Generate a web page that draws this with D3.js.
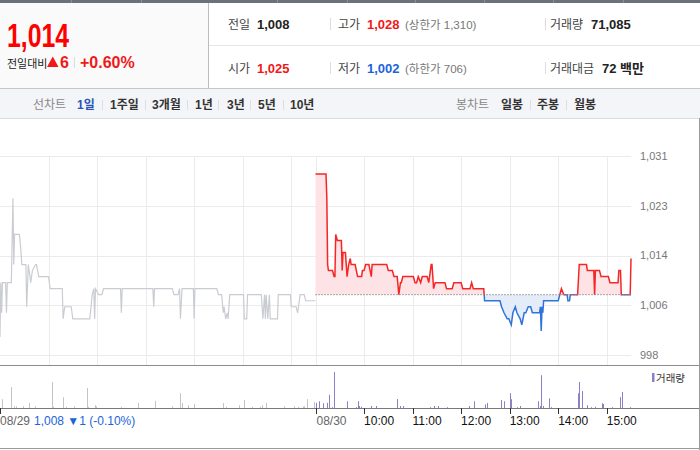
<!DOCTYPE html>
<html>
<head>
<meta charset="utf-8">
<script src="https://cdn.jsdelivr.net/npm/d3@7"></script>
<style>
  html, body { margin: 0; padding: 0; background: #fff; }
  svg { display: block; }
</style>
</head>
<body>
<div id="chart"></div>
<script>
// 08/29 (previous day) ticks
const prevTimes = ["09:00","09:01","09:02","09:03","09:07","09:08","09:09","09:14","09:16","09:17","09:18","09:24","09:26","09:27","09:32","09:33","09:35","09:38","09:40","09:44","09:45","09:48","10:00","10:02","10:17","10:18","10:20","10:28","10:30","10:51","10:54","10:56","10:57","10:58","11:02","11:06","11:08","11:29","11:30","11:31","12:09","12:10","12:11","12:33","12:35","12:40","12:42","12:43","12:45","12:59","13:00","13:01","13:28","13:30","13:34","13:36","13:37","13:39","13:41","13:42","13:44","14:01","14:02","14:05","14:06","14:23","14:25","14:27","14:28","14:29","14:31","14:33","14:34","14:43","14:44","14:59","15:00","15:06","15:08","15:11","15:16","15:18","15:30"];
const prevPrices = [1001,1010,1005,1010,1010,1005,1010,1010,1024,1013,1018,1018,1015,1013,1013,1006,1013,1010,1012,1013,1013,1011,1011,1009,1009,1004,1006,1006,1004,1004,1008,1009,1004,1009,1008,1008,1009,1009,1005,1009,1009,1006,1009,1009,1008,1008,1009,1004,1009,1009,1004,1009,1009,1008,1008,1005,1006,1004,1005,1004,1008,1008,1004,1004,1008,1008,1004,1008,1004,1008,1004,1008,1004,1004,1008,1008,1006,1006,1005,1008,1008,1007,1007];

// 08/30 (today) ticks
const todayTimes = ["09:00","09:13","09:14","09:15","09:16","09:21","09:23","09:24","09:25","09:27","09:32","09:33","09:34","09:37","09:39","09:41","09:43","09:44","09:49","09:52","09:57","09:58","10:00","10:02","10:06","10:09","10:10","10:28","10:30","10:35","10:37","10:41","10:43","10:45","10:46","10:48","11:01","11:03","11:05","11:07","11:10","11:12","11:18","11:20","11:23","11:24","11:26","11:28","11:40","11:42","11:49","11:51","12:00","12:02","12:11","12:13","12:15","12:28","12:29","12:48","12:50","12:53","12:57","12:59","13:02","13:04","13:07","13:09","13:13","13:15","13:18","13:20","13:23","13:26","13:28","13:37","13:38","13:39","13:40","13:41","13:42","14:00","14:02","14:04","14:07","14:11","14:12","14:14","14:15","14:24","14:26","14:35","14:36","14:44","14:45","14:46","14:51","14:53","15:02","15:04","15:14","15:15","15:17","15:18","15:29","15:30"];
const todayPrices = [1028,1028,1024,1013,1012,1012,1011,1011,1018,1017,1017,1012,1015,1015,1011,1013,1014,1013,1013,1011,1011,1012,1012,1013,1013,1011,1013,1013,1012,1012,1011,1011,1008,1010,1010,1011,1011,1010,1010,1011,1010,1011,1011,1010,1013,1013,1009,1010,1010,1009,1009,1010,1010,1009,1009,1010,1009,1009,1007,1007,1006,1005,1004,1004,1003,1005,1006,1005,1004,1003,1005,1005,1006,1006,1005,1005,1006,1002,1006,1005,1007,1007,1008,1009,1008,1008,1007,1007,1008,1008,1013,1013,1012,1012,1008,1012,1012,1011,1011,1010,1010,1012,1012,1008,1008,1014];

// volumes
const prevVolTimes = ["09:03","09:14","09:17","09:20","09:28","09:29","09:36","09:43","10:04","10:06","10:18","10:22","10:31","10:47","10:49","10:57","10:59","11:29","11:50","12:11","12:32","12:43","12:45","12:52","13:00","13:36","13:39","13:56","14:01","14:12","14:21","14:24","14:29","14:51","15:03","15:08","15:14","15:16","15:19","15:28"];
const prevVolumes = [2200,5200,400,400,400,400,1250,400,6500,300,2700,300,400,5000,300,700,400,300,1250,1800,400,3700,1250,700,1000,1250,300,700,2000,300,300,700,1250,400,400,300,400,400,2200,1500];
const todayVolTimes = ["09:01","09:04","09:09","09:14","09:17","09:21","09:23","09:39","09:50","09:52","09:54","09:56","10:09","10:15","10:41","10:44","10:48","11:22","11:26","11:32","11:43","12:10","12:16","12:29","12:32","12:49","12:53","13:00","13:02","13:09","13:13","13:35","13:38","13:39","13:41","13:49","13:51","14:24","14:26","14:30","14:36","14:41","14:45","14:54","14:56","15:07","15:16","15:19","15:29"];
const todayVolumes = [1300,1700,1200,1300,3300,200,9000,1700,200,1700,500,300,500,500,2250,500,500,200,500,500,200,500,1700,900,1250,2000,1700,3700,2200,200,500,1700,500,8200,500,2400,200,3700,6500,4250,700,200,300,1200,1000,200,2700,4000,200];

const prevClose = 1008;
const priceTicks = [998, 1006.25, 1014.5, 1022.75, 1031];
const priceTickLabels = ["998", "1,006", "1,014", "1,023", "1,031"];
const hourLabels = ["10:00", "11:00", "12:00", "13:00", "14:00", "15:00"];
const dayLabels = ["08/29", "08/30"];

const tabsLine = ["1일", "1주일", "3개월", "1년", "3년", "5년", "10년"];
const tabsCandle = ["일봉", "주봉", "월봉"];

const W = 700, H = 450;
const KR = "'Noto Sans CJK KR', sans-serif";
const NUM = "'Liberation Sans', Arial, 'Noto Sans CJK KR', sans-serif";
const RED = "#f01818", BLUE = "#1b64da";

function toMin(t, day) {
  const p = t.split(":").map(Number);
  return day * 390 + (p[0] - 9) * 60 + p[1];
}

const svg = d3.select("#chart").append("svg")
  .attr("width", W).attr("height", H);

// ---------- header ----------
svg.append("rect").attr("x", 0).attr("y", 0).attr("width", W).attr("height", 3).attr("fill", "#6b707b");
[71, 141, 277, 347, 415, 484, 553, 623].forEach(function(x) {
  svg.append("rect").attr("x", x).attr("y", 0).attr("width", 1).attr("height", 3).attr("fill", "#8a8f99");
});
svg.append("rect").attr("x", 0).attr("y", 3).attr("width", 208).attr("height", 85).attr("fill", "#fafafa");
svg.append("line").attr("x1", 208.5).attr("x2", 208.5).attr("y1", 3).attr("y2", 88).attr("stroke", "#bdbdbd");
svg.append("line").attr("x1", 209).attr("x2", W).attr("y1", 45.5).attr("y2", 45.5).attr("stroke", "#e6e6e6");

svg.append("text").attr("x", 7).attr("y", 47)
  .attr("font-family", NUM).attr("font-weight", "bold").attr("font-size", 33)
  .attr("textLength", 62).attr("lengthAdjust", "spacingAndGlyphs")
  .attr("fill", "#ff0000").text("1,014");

const sub = svg.append("text").attr("y", 68).attr("font-family", NUM);
sub.append("tspan").attr("x", 7).attr("font-family", KR).attr("font-size", 11).attr("fill", "#222").text("전일대비");
sub.append("tspan").attr("x", 60).attr("font-size", 16).attr("font-weight", "bold").attr("fill", RED).text("6");
sub.append("tspan").attr("x", 80).attr("font-size", 16).attr("font-weight", "bold").attr("fill", RED).text("+0.60%");
svg.append("path").attr("d", "M47,67L58.5,67L52.75,56.5Z").attr("fill", RED);
svg.append("line").attr("x1", 74.5).attr("x2", 74.5).attr("y1", 57).attr("y2", 68).attr("stroke", "#ddd");

const infoRows = [
  { y: 29, cells: [
    { x: 228, label: "전일", value: "1,008", color: "#222" },
    { x: 338, label: "고가", value: "1,028", color: RED, note: "(상한가 1,310)" },
    { x: 550, label: "거래량", value: "71,085", color: "#222", vx: 591 } ] },
  { y: 73, cells: [
    { x: 228, label: "시가", value: "1,025", color: RED },
    { x: 338, label: "저가", value: "1,002", color: BLUE, note: "(하한가 706)" },
    { x: 550, label: "거래대금", value: "72 백만", color: "#222", vx: 602 } ] }
];
infoRows.forEach(function(row) {
  row.cells.forEach(function(c) {
    svg.append("text").attr("x", c.x).attr("y", row.y)
      .attr("font-family", KR).attr("font-size", 12).attr("fill", "#444").text(c.label);
    svg.append("text").attr("x", c.vx || c.x + 29).attr("y", row.y)
      .attr("font-family", NUM).attr("font-size", 13).attr("font-weight", "bold")
      .attr("fill", c.color).text(c.value);
    if (c.note) {
      svg.append("text").attr("x", 405).attr("y", row.y)
        .attr("font-family", NUM).attr("font-size", 11.5).attr("fill", "#777").text(c.note);
    }
  });
  [330.5, 545.5].forEach(function(x) {
    svg.append("line").attr("x1", x).attr("x2", x).attr("y1", row.y - 11).attr("y2", row.y + 1).attr("stroke", "#ddd");
  });
});

// ---------- tabs ----------
svg.append("rect").attr("x", 0).attr("y", 88).attr("width", W).attr("height", 30).attr("fill", "#f4f5f8");
svg.append("line").attr("x1", 0).attr("x2", W).attr("y1", 88.5).attr("y2", 88.5).attr("stroke", "#c4c6cb");
svg.append("line").attr("x1", 0).attr("x2", W).attr("y1", 118.5).attr("y2", 118.5).attr("stroke", "#dcdde1");

svg.append("text").attr("x", 33).attr("y", 109).attr("font-family", KR).attr("font-size", 12).attr("fill", "#888").text("선차트");
svg.append("text").attr("x", 456).attr("y", 109).attr("font-family", KR).attr("font-size", 12).attr("fill", "#888").text("봉차트");
const lineTabX = [77, 110, 152, 195, 227, 258, 290];
tabsLine.forEach(function(t, i) {
  svg.append("text").attr("x", lineTabX[i]).attr("y", 109)
    .attr("font-family", NUM).attr("font-size", 12).attr("font-weight", "bold")
    .attr("fill", i === 0 ? "#2a53b5" : "#333").text(t);
});
const candleTabX = [501, 537, 574];
tabsCandle.forEach(function(t, i) {
  svg.append("text").attr("x", candleTabX[i]).attr("y", 109)
    .attr("font-family", KR).attr("font-size", 12).attr("font-weight", "bold").attr("fill", "#333").text(t);
});
[102, 145, 187, 218, 250, 283, 530, 566].forEach(function(x) {
  svg.append("line").attr("x1", x + 0.5).attr("x2", x + 0.5).attr("y1", 100).attr("y2", 110).attr("stroke", "#dcdee2");
});

// ---------- chart ----------
const x = d3.scaleLinear().domain([0, 780]).range([0, 631]);
const y = d3.scaleLinear().domain([998, 1031]).range([355, 156]);
const yVol = d3.scaleLinear().domain([0, 9000]).range([408, 372]);

const prev = prevTimes.map(function(t, i) { return { m: toMin(t, 0), p: prevPrices[i] }; });
const today = todayTimes.map(function(t, i) { return { m: toMin(t, 1), p: todayPrices[i] }; });

const g = svg.append("g");

// grid
g.selectAll(".hgrid").data(priceTicks).enter().append("line")
  .attr("x1", 0).attr("x2", x(780))
  .attr("y1", function(d) { return Math.round(y(d)) + 0.5; })
  .attr("y2", function(d) { return Math.round(y(d)) + 0.5; })
  .attr("stroke", "#ebebeb");
const vgrid = d3.range(1, 13).map(function(i) { return i < 7 ? i * 60 : 390 + (i - 6) * 60; });
vgrid.push(390);
g.selectAll(".vgrid").data(vgrid).enter().append("line")
  .attr("x1", function(d) { return Math.round(x(d)) + 0.5; })
  .attr("x2", function(d) { return Math.round(x(d)) + 0.5; })
  .attr("y1", y(1031)).attr("y2", 365)
  .attr("stroke", "#ebebeb");

g.selectAll(".ylab").data(priceTicks).enter().append("text")
  .attr("x", 640).attr("y", function(d) { return y(d); }).attr("dy", "0.36em")
  .attr("font-family", NUM).attr("font-size", 11).attr("fill", "#777")
  .text(function(d, i) { return priceTickLabels[i]; });

// clips around previous close
const defs = svg.append("defs");
defs.append("clipPath").attr("id", "up").append("rect")
  .attr("x", 0).attr("y", 0).attr("width", W).attr("height", y(prevClose));
defs.append("clipPath").attr("id", "down").append("rect")
  .attr("x", 0).attr("y", y(prevClose)).attr("width", W).attr("height", 365 - y(prevClose));

const line = d3.line().x(function(d) { return x(d.m); }).y(function(d) { return y(d.p); });
const area = d3.area().x(function(d) { return x(d.m); }).y0(y(prevClose)).y1(function(d) { return y(d.p); });

g.append("path").datum(prev).attr("d", line)
  .attr("fill", "none").attr("stroke", "#c9ccd1").attr("stroke-width", 1.2);

g.append("path").datum(today).attr("d", area).attr("fill", "#fde3e5").attr("clip-path", "url(#up)");
g.append("path").datum(today).attr("d", area).attr("fill", "#e3ecf8").attr("clip-path", "url(#down)");

g.append("line").attr("x1", x(390)).attr("x2", x(780))
  .attr("y1", y(prevClose)).attr("y2", y(prevClose))
  .attr("stroke", "#555").attr("stroke-dasharray", "1,2");

g.append("path").datum(today).attr("d", line).attr("fill", "none")
  .attr("stroke", "#f52626").attr("stroke-width", 1.5).attr("clip-path", "url(#up)");
g.append("path").datum(today).attr("d", line).attr("fill", "none")
  .attr("stroke", "#2f74d8").attr("stroke-width", 1.5).attr("clip-path", "url(#down)");

// pane separators and borders
svg.append("line").attr("x1", 0).attr("x2", W).attr("y1", 365.5).attr("y2", 365.5).attr("stroke", "#8c8c8c");
svg.append("line").attr("x1", 0).attr("x2", W).attr("y1", 408.5).attr("y2", 408.5).attr("stroke", "#7a7a7a");
svg.append("line").attr("x1", 699.5).attr("x2", 699.5).attr("y1", 118).attr("y2", H).attr("stroke", "#9a9a9a");
svg.append("line").attr("x1", 0).attr("x2", W).attr("y1", 448.5).attr("y2", 448.5).attr("stroke", "#9a9a9a");

// volume
const vol = svg.append("g");
vol.selectAll(".pv").data(prevVolTimes).enter().append("rect")
  .attr("x", function(t) { return Math.round(x(toMin(t, 0))); })
  .attr("width", 1)
  .attr("y", function(t, i) { return yVol(prevVolumes[i]); })
  .attr("height", function(t, i) { return 408 - yVol(prevVolumes[i]); })
  .attr("fill", "#c4c4c4");
vol.selectAll(".tv").data(todayVolTimes).enter().append("rect")
  .attr("x", function(t) { return Math.round(x(toMin(t, 1))); })
  .attr("width", 1)
  .attr("y", function(t, i) { return yVol(todayVolumes[i]); })
  .attr("height", function(t, i) { return 408 - yVol(todayVolumes[i]); })
  .attr("fill", "#8f7fc6");

svg.append("rect").attr("x", 652).attr("y", 373).attr("width", 2.5).attr("height", 9).attr("fill", "#8f7fc6");
svg.append("text").attr("x", 656).attr("y", 382).attr("font-family", KR).attr("font-size", 10.5).attr("fill", "#333").text("거래량");

// x axis
const tickMins = [0, 390].concat(d3.range(1, 7).map(function(i) { return 390 + i * 60; }));
svg.selectAll(".xt").data(tickMins).enter().append("line")
  .attr("x1", function(d) { return Math.round(x(d)) + 0.5; })
  .attr("x2", function(d) { return Math.round(x(d)) + 0.5; })
  .attr("y1", 408).attr("y2", 414).attr("stroke", "#333");

svg.append("text").attr("x", 0).attr("y", 425).attr("font-family", NUM).attr("font-size", 12).attr("fill", "#666").text(dayLabels[0]);
svg.append("text").attr("x", 34).attr("y", 425).attr("font-family", NUM).attr("font-size", 12).attr("fill", BLUE).text("1,008 ▼1 (-0.10%)");
svg.append("text").attr("x", x(390) + 1).attr("y", 425).attr("font-family", NUM).attr("font-size", 12).attr("fill", "#666").text(dayLabels[1]);
svg.selectAll(".xl").data(hourLabels).enter().append("text")
  .attr("x", function(d, i) { return x(390 + (i + 1) * 60); })
  .attr("y", 425).attr("font-family", NUM).attr("font-size", 12).attr("fill", "#111")
  .text(function(d) { return d; });
</script>
</body>
</html>
